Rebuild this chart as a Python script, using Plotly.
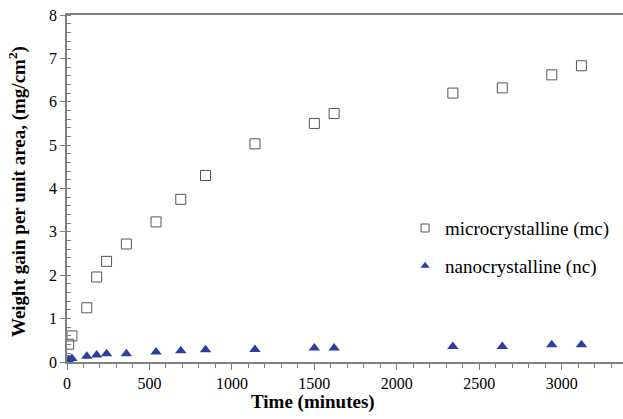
import plotly.graph_objects as go

time_mc = [0, 10, 30, 120, 180, 240, 360, 540, 690, 840, 1140, 1500, 1620, 2340, 2640, 2940, 3120]
gain_mc = [0.03, 0.41, 0.6, 1.25, 1.96, 2.32, 2.72, 3.23, 3.75, 4.3, 5.03, 5.5, 5.73, 6.2, 6.32, 6.62, 6.83]
time_nc = [0, 10, 30, 120, 180, 240, 360, 540, 690, 840, 1140, 1500, 1620, 2340, 2640, 2940, 3120]
gain_nc = [0.01, 0.04, 0.08, 0.13, 0.16, 0.19, 0.19, 0.23, 0.26, 0.28, 0.29, 0.32, 0.32, 0.36, 0.36, 0.4, 0.4]
series_names = ["microcrystalline (mc)", "nanocrystalline (nc)"]

font = "Liberation Serif"
axis_col = "#808080"
mc_marker = dict(symbol="square-open", color="#555555", line=dict(width=1))
nc_marker = dict(symbol="triangle-up", color="#2e3ea0")

fig = go.Figure()
fig.add_trace(go.Scatter(x=time_mc, y=gain_mc, mode="markers", showlegend=False,
                         marker=dict(size=10, **mc_marker)))
fig.add_trace(go.Scatter(x=time_nc, y=gain_nc, mode="markers", showlegend=False,
                         marker=dict(size=10, **nc_marker)))
# legend-only entries with smaller symbols, as in the reference
fig.add_trace(go.Scatter(x=[None], y=[None], mode="markers", name=series_names[0],
                         legendgroup="a", marker=dict(size=8, **mc_marker)))
fig.add_trace(go.Scatter(x=[None], y=[None], mode="markers", name=series_names[1],
                         legendgroup="b", marker=dict(size=8, **nc_marker)))

fig.update_layout(
    width=623, height=419,
    margin=dict(l=67, r=0, t=15, b=57),
    paper_bgcolor="white", plot_bgcolor="white",
    font=dict(family=font, size=16, color="black"),
    showlegend=True,
    legend=dict(x=0.608, y=0.331, xanchor="left", yanchor="middle", bgcolor="rgba(0,0,0,0)",
                font=dict(size=19, family=font), tracegroupgap=10, traceorder="grouped",
                itemsizing="trace", itemwidth=30),
    xaxis=dict(range=[0, 3372], showgrid=False, zeroline=False, showline=True, linecolor=axis_col,
               linewidth=1.5, mirror=True, ticks="outside", tickcolor=axis_col, ticklen=6,
               tick0=0, dtick=500, tickfont=dict(size=16, family=font),
               minor=dict(ticks="outside", ticklen=4, tickcolor=axis_col, dtick=100, showgrid=False)),
    yaxis=dict(range=[0, 8], showgrid=False, zeroline=False, showline=True, linecolor=axis_col,
               linewidth=1.5, mirror=False, ticks="outside", tickcolor=axis_col, ticklen=5,
               tick0=0, dtick=1, tickfont=dict(size=16, family=font),
               minor=dict(ticks="inside", ticklen=4, tickcolor=axis_col, dtick=0.2, showgrid=False)),
    annotations=[
        dict(text="<b>Time (minutes)</b>", xref="paper", yref="paper", x=0.443, y=-0.115,
             xanchor="center", yanchor="middle", showarrow=False, font=dict(size=19, family=font)),
        dict(text="<b>Weight gain per unit area, (mg/cm<sup>2</sup>)</b>", xref="paper", yref="paper",
             x=-0.088, y=0.49, xanchor="center", yanchor="middle", textangle=-90, showarrow=False,
             font=dict(size=19, family=font)),
    ],
)

fig.write_html("out.html")
